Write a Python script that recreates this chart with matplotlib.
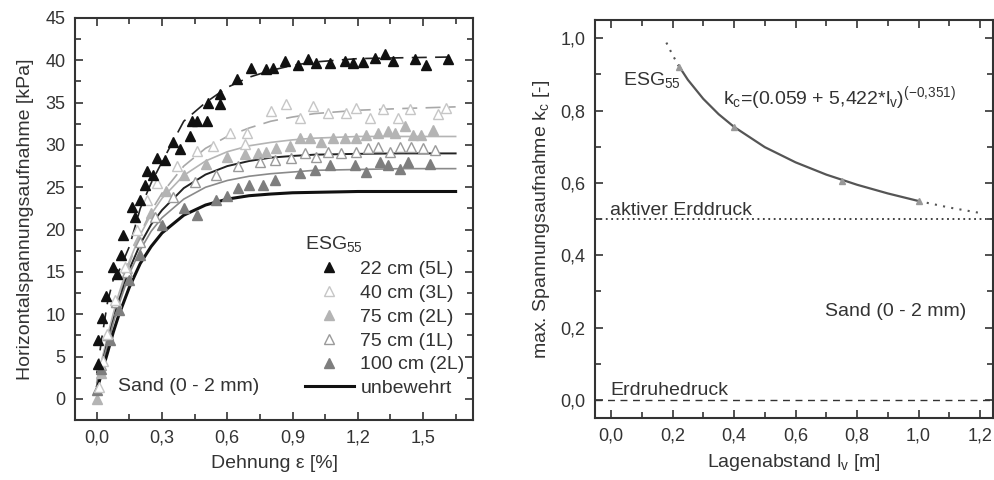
import matplotlib.pyplot as plt
from matplotlib.ticker import MultipleLocator, FuncFormatter
from matplotlib.lines import Line2D

plt.rcParams['font.family'] = ['Liberation Sans', 'DejaVu Sans']
plt.rcParams['mathtext.fontset'] = 'custom'
plt.rcParams['mathtext.rm'] = 'Liberation Sans'
plt.rcParams['mathtext.it'] = 'Liberation Sans'

# --- left chart: measured points (Dehnung %, kPa) ---
x_22 = [0.005, 0.005, 0.023, 0.043, 0.073, 0.092, 0.11, 0.122, 0.16, 0.176, 0.2, 0.222,
        0.23, 0.26, 0.276, 0.314, 0.352, 0.383, 0.429, 0.436, 0.459, 0.508, 0.513, 0.566,
        0.566, 0.643, 0.707, 0.78, 0.81, 0.865, 0.926, 0.97, 1.01, 1.071, 1.14, 1.178,
        1.224, 1.278, 1.324, 1.362, 1.461, 1.515, 1.614]
y_22 = [4.1, 6.9, 9.5, 12.1, 15.6, 14.8, 17.0, 19.4, 22.7, 21.5, 23.5, 25.3,
        26.9, 26.5, 28.4, 28.2, 30.4, 29.5, 31.0, 32.8, 32.8, 32.8, 35.0, 34.8,
        36.0, 37.8, 39.1, 39.0, 39.1, 39.9, 39.5, 40.1, 39.7, 39.7, 39.9, 39.7,
        39.8, 40.3, 40.7, 39.9, 40.1, 39.5, 40.1]

x_40 = [0.008, 0.03, 0.046, 0.084, 0.13, 0.184, 0.23, 0.276, 0.367, 0.459, 0.536, 0.612,
        0.681, 0.689, 0.803, 0.872, 0.933, 0.995, 1.064, 1.148, 1.19, 1.255, 1.316, 1.385,
        1.44, 1.568, 1.607]
y_40 = [1.4, 4.5, 7.7, 11.7, 15.6, 20.0, 23.5, 25.5, 27.5, 29.3, 29.9, 31.4,
        30.1, 31.4, 34.0, 34.8, 33.2, 34.6, 33.8, 33.8, 34.4, 33.2, 34.2, 33.2,
        34.2, 33.6, 34.4]

x_75_2 = [0.0, 0.02, 0.05, 0.09, 0.14, 0.19, 0.25, 0.32, 0.4, 0.5, 0.6, 0.68, 0.74, 0.78,
          0.826, 0.888, 0.933, 0.979, 1.033, 1.086, 1.14, 1.194, 1.24, 1.293, 1.339, 1.37,
          1.416, 1.454, 1.492, 1.545]
y_75_2 = [0.0, 3.0, 7.5, 11.5, 15.5, 18.8, 22.0, 24.5, 26.5, 27.8, 28.6, 28.9, 29.1, 29.2,
          29.6, 29.9, 30.8, 30.8, 30.4, 30.8, 30.8, 30.8, 31.2, 31.4, 31.6, 31.4,
          32.2, 31.2, 31.2, 31.8]

x_75_1 = [0.02, 0.05, 0.09, 0.14, 0.2, 0.27, 0.35, 0.45, 0.55, 0.65, 0.75, 0.82, 0.895,
          0.957, 1.01, 1.063, 1.125, 1.194, 1.247, 1.293, 1.347, 1.393, 1.446, 1.5, 1.553]
y_75_1 = [4.0, 7.5, 11.5, 15.0, 18.5, 21.5, 23.8, 25.6, 26.5, 27.5, 28.0, 28.2, 28.4,
          29.0, 28.6, 29.2, 29.0, 29.2, 29.6, 29.8, 29.2, 29.8, 29.8, 29.6, 29.4]

x_100 = [0.0, 0.02, 0.06, 0.1, 0.15, 0.2, 0.3, 0.4, 0.459, 0.55, 0.6, 0.65, 0.7, 0.765,
         0.819, 0.933, 1.002, 1.071, 1.186, 1.238, 1.3, 1.339, 1.393, 1.431, 1.53]
y_100 = [1.0, 3.5, 7.0, 10.5, 14.0, 17.0, 20.5, 22.5, 21.7, 23.5, 24.0, 24.9, 25.3, 25.3,
         25.9, 26.7, 27.0, 27.6, 27.6, 26.8, 28.0, 27.6, 27.2, 28.0, 27.8]

# fit curves
x_fit = [0.0, 0.025, 0.05, 0.075, 0.1, 0.15, 0.2, 0.25, 0.3, 0.4, 0.5, 0.6, 0.7, 0.8,
         0.9, 1.0, 1.2, 1.4, 1.65]
fit_22 = [3.0, 7.5, 11.5, 14.0, 15.0, 18.0, 22.5, 25.5, 28.0, 32.8, 35.0, 36.8, 38.0, 38.8,
          39.4, 39.8, 40.2, 40.3, 40.4]
fit_40 = [2.0, 4.6, 7.0, 9.6, 12.0, 16.0, 19.5, 22.2, 24.3, 27.5, 29.6, 31.0, 32.0, 32.8,
          33.3, 33.7, 34.1, 34.3, 34.5]
fit_75_2 = [2.0, 4.8, 7.5, 10.0, 12.3, 16.3, 19.4, 21.8, 23.7, 26.4, 28.1, 29.2, 29.9, 30.3,
            30.6, 30.8, 31.0, 31.0, 31.0]
fit_75_1 = [1.5, 4.2, 6.8, 9.2, 11.5, 15.3, 18.3, 20.6, 22.3, 24.9, 26.5, 27.5, 28.1, 28.5,
            28.7, 28.85, 28.95, 29.0, 29.0]
fit_100 = [1.5, 4.1, 6.5, 8.9, 11.0, 14.8, 17.6, 19.8, 21.4, 23.6, 25.0, 25.8, 26.3, 26.6,
           26.8, 27.0, 27.1, 27.2, 27.2]
fit_unbew = [1.0, 3.3, 5.5, 7.8, 9.8, 13.2, 16.0, 18.0, 19.6, 21.7, 22.9, 23.6, 24.0, 24.2,
             24.35, 24.4, 24.5, 24.5, 24.5]

# --- right chart ---
l_v = [0.22, 0.4, 0.75, 1.0]
k_c = [0.92, 0.755, 0.605, 0.55]
l_curve = [0.22, 0.25, 0.3, 0.35, 0.4, 0.5, 0.6, 0.7, 0.8, 0.9, 1.0]
k_curve = [0.924, 0.885, 0.8325, 0.79, 0.755, 0.699, 0.657, 0.623, 0.595, 0.571, 0.55]
l_ext1 = [0.18, 0.2, 0.22]
k_ext1 = [0.988, 0.954, 0.924]
l_ext2 = [1.0, 1.1, 1.2]
k_ext2 = [0.55, 0.532, 0.517]
k_aktiv = 0.5
k_ruhe = 0.0

txt = '#333333'
c_light = '#c6c6c6'
c_mid = '#b4b4b4'
c_gray = '#9a9a9a'
c_dark = '#7e7e7e'
fs = 14

fig = plt.figure(figsize=(9.95, 4.8), dpi=100)
ax1 = fig.add_axes([0.0754, 0.125, 0.4, 0.8375])
ax2 = fig.add_axes([0.598, 0.129, 0.4, 0.829])

comma = FuncFormatter(lambda v, p: f'{v:.1f}'.replace('.', ','))
comma0 = FuncFormatter(lambda v, p: f'{v:.0f}')

for ax in (ax1, ax2):
    ax.tick_params(which='both', direction='in', top=True, right=True,
                   labelsize=13, colors=txt, width=1.2)
    ax.tick_params(which='major', length=6, pad=7)
    ax.tick_params(which='minor', length=4)
    for s in ax.spines.values():
        s.set_linewidth(1.5)
        s.set_color('#333333')

# left
ax1.plot(x_fit, fit_22, color='#222222', lw=1.2, ls=(0, (9, 5)))
ax1.plot(x_fit, fit_40, color='#a8a8a8', lw=1.2, ls=(0, (9, 5)))
ax1.plot(x_fit, fit_75_2, color=c_mid, lw=1.2)
ax1.plot(x_fit, fit_75_1, color='#222222', lw=1.4)
ax1.plot(x_fit, fit_100, color='#8a8a8a', lw=1.2)
ax1.plot(x_fit, fit_unbew, color='#111111', lw=2.2)

ms = 6.5
ax1.plot(x_75_2, y_75_2, '^', ms=ms, color=c_mid, ls='none')
ax1.plot(x_75_1, y_75_1, '^', ms=ms, mfc='white', mec=c_gray, mew=1.0, ls='none')
ax1.plot(x_100, y_100, '^', ms=ms, color=c_dark, ls='none')
ax1.plot(x_40, y_40, '^', ms=ms, mfc='white', mec=c_light, mew=1.0, ls='none')
ax1.plot(x_22, y_22, '^', ms=ms, color='#111111', ls='none')

ax1.set_xlim(-0.1, 1.73)
ax1.set_ylim(-2.5, 45)
ax1.xaxis.set_major_locator(MultipleLocator(0.3))
ax1.xaxis.set_minor_locator(MultipleLocator(0.15))
ax1.yaxis.set_major_locator(MultipleLocator(5))
ax1.yaxis.set_minor_locator(MultipleLocator(2.5))
ax1.xaxis.set_major_formatter(comma)
ax1.yaxis.set_major_formatter(comma0)
ax1.set_xlabel('Dehnung ε [%]', fontsize=fs, color=txt, labelpad=6)
ax1.set_ylabel('Horizontalspannungsaufnahme [kPa]', fontsize=fs, color=txt, labelpad=8)
ax1.text(0.098, 1.4, 'Sand (0 - 2 mm)', fontsize=fs, color=txt, va='center')

handles = [
    Line2D([], [], marker='^', ls='none', ms=ms, color='#111111'),
    Line2D([], [], marker='^', ls='none', ms=ms, mfc='white', mec=c_light),
    Line2D([], [], marker='^', ls='none', ms=ms, color=c_mid),
    Line2D([], [], marker='^', ls='none', ms=ms, mfc='white', mec=c_gray),
    Line2D([], [], marker='^', ls='none', ms=ms, color=c_dark),
    Line2D([], [], color='#111111', lw=2.2),
]
labels = ['22 cm (5L)', '40 cm (3L)', '75 cm (2L)', '75 cm (1L)', '100 cm (2L)', 'unbewehrt']
leg = ax1.legend(handles, labels, title='ESG$_{55}$', loc='upper left',
                 bbox_to_anchor=(0.578, 0.462), borderaxespad=0, borderpad=0,
                 frameon=False, fontsize=fs, title_fontsize=fs, handlelength=2.5,
                 handletextpad=0.35, labelspacing=0.32)
leg._legend_box.align = 'left'
for t in leg.get_texts():
    t.set_color(txt)
leg.get_title().set_color(txt)

# right
ax2.axhline(k_aktiv, color='#333333', lw=1.3, ls=(0, (1, 2)))
ax2.axhline(k_ruhe, color='#333333', lw=1.0, ls=(0, (5, 4)))
ax2.plot(l_curve, k_curve, color='#555555', lw=1.6)
ax2.plot(l_ext1, k_ext1, color='#555555', lw=1.5, ls=(0, (1, 3)))
ax2.plot(l_ext2, k_ext2, color='#555555', lw=1.5, ls=(0, (1, 3)))
ax2.plot(l_v, k_c, '^', ms=5, color='#999999', ls='none')

ax2.set_xlim(-0.052, 1.242)
ax2.set_ylim(-0.05, 1.05)
ax2.xaxis.set_major_locator(MultipleLocator(0.2))
ax2.xaxis.set_minor_locator(MultipleLocator(0.1))
ax2.yaxis.set_major_locator(MultipleLocator(0.2))
ax2.yaxis.set_minor_locator(MultipleLocator(0.1))
ax2.xaxis.set_major_formatter(comma)
ax2.yaxis.set_major_formatter(comma)
ax2.set_xlabel('Lagenabstand l$_v$ [m]', fontsize=fs, color=txt, labelpad=5)
ax2.set_ylabel('max. Spannungsaufnahme k$_c$ [-]', fontsize=fs, color=txt, labelpad=6)

ax2.text(0.04, 0.885, 'ESG$_{55}$', fontsize=fs, color=txt, va='center')
ax2.text(0.364, 0.835, 'k$_c$=(0.059 + 5,422*l$_v$)$^{(-0{,}351)}$', fontsize=fs,
         color=txt, va='center')
ax2.text(-0.003, 0.525, 'aktiver Erddruck', fontsize=fs, color=txt, va='center')
ax2.text(-0.003, 0.025, 'Erdruhedruck', fontsize=fs, color=txt, va='center')
ax2.text(0.696, 0.244, 'Sand (0 - 2 mm)', fontsize=fs, color=txt, va='center')

fig.savefig('out.png', dpi=100)
